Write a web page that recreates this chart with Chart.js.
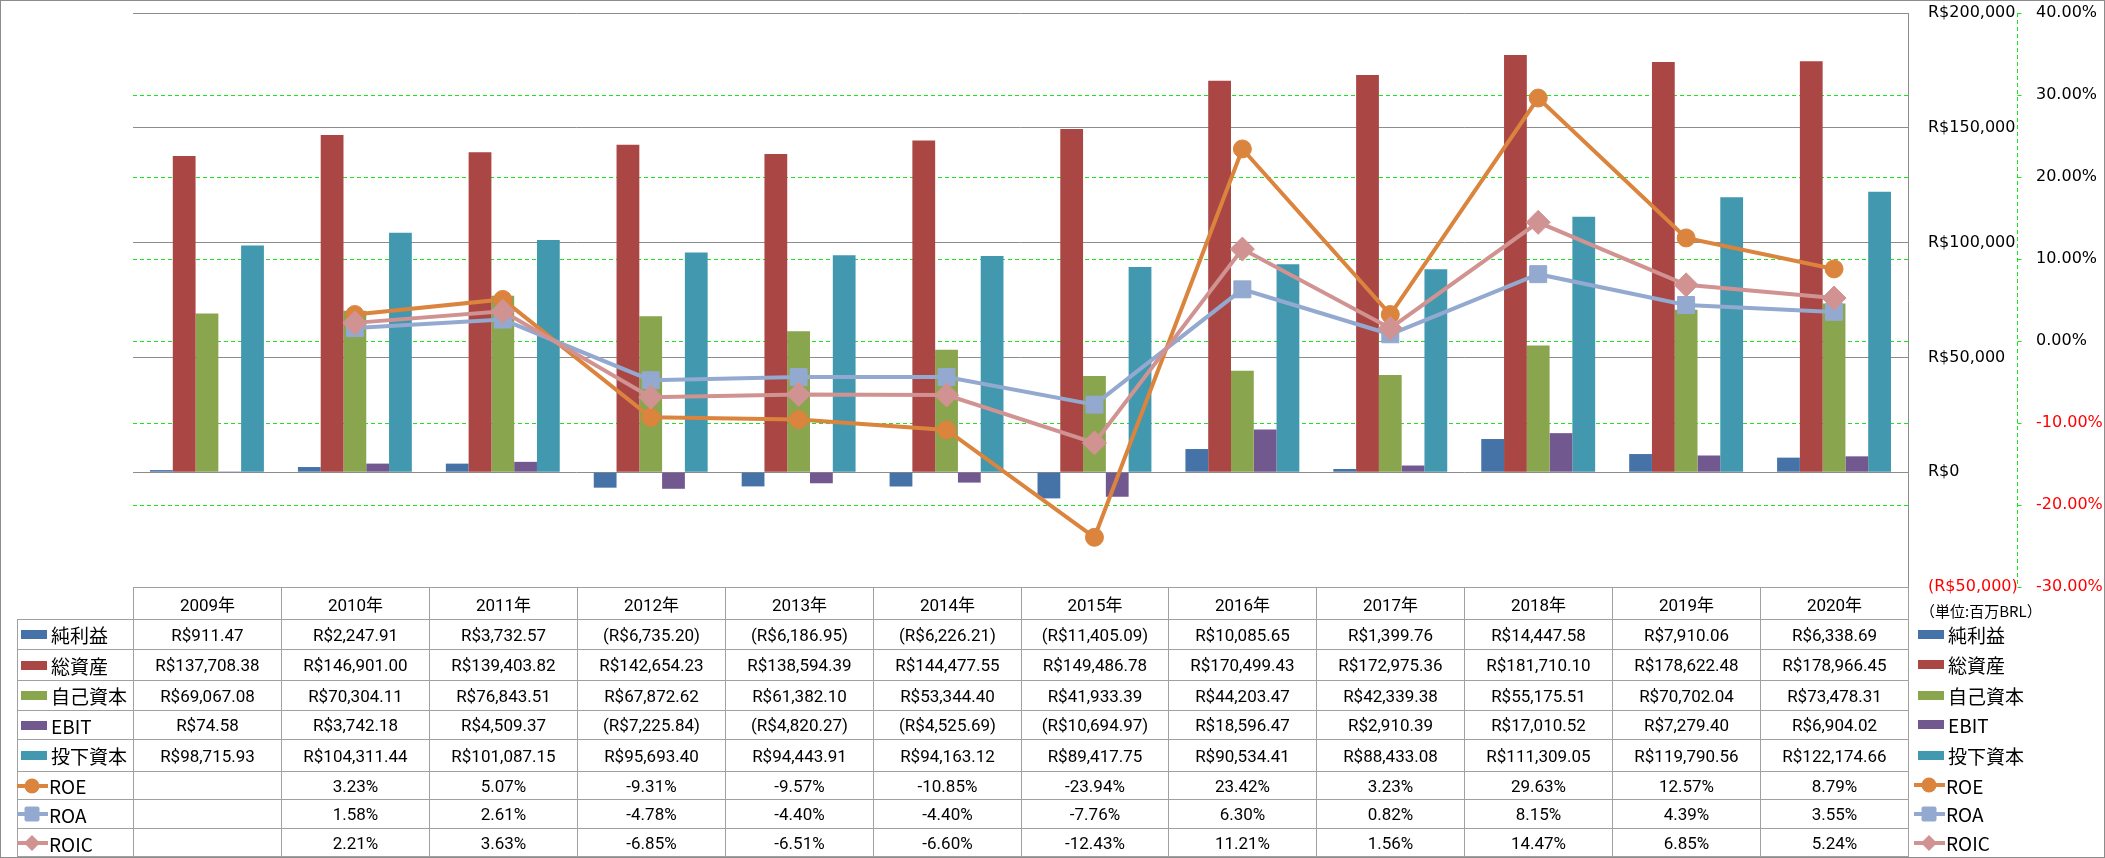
<!DOCTYPE html>
<html>
<head>
  <meta charset="utf-8">
  <title>財務指標 2009-2020</title>
  <script src="https://cdn.jsdelivr.net/npm/chart.js"></script>
  <style>
    body { margin: 0; background: #fff; }
    #wrap { position: relative; width: 2105px; height: 858px; overflow: hidden; background: #fff; }
    #chart { position: absolute; left: 0; top: 0; }
    #frame { position: absolute; left: 0; top: 0; width: 2105px; height: 858px; box-sizing: border-box; border: 1px solid #8c8c8c; pointer-events: none; }
    .cell { position: absolute; box-sizing: border-box; border-left: 1px solid #a0a0a0; border-top: 1px solid #a0a0a0;
            display: flex; align-items: center; justify-content: center;
            font-family: Roboto, "Noto Sans CJK JP", sans-serif; font-size: 17px; color: #000; white-space: nowrap; }
    .lab { justify-content: flex-start; font-family: "Noto Sans CJK JP", sans-serif; font-size: 19px; }
    .leg { position: absolute; display: flex; align-items: center; font-family: "Noto Sans CJK JP", sans-serif; font-size: 19px; white-space: nowrap; }
    .sw { display: inline-block; width: 26px; height: 9px; margin-right: 4px; }
    .vline, .hline { position: absolute; background: #a0a0a0; }
  </style>
</head>
<body>
<div id="wrap">
  <canvas id="chart" width="2105" height="858"></canvas>
  <div id="table"></div>
  <div id="frame"></div>
</div>

<script>
  const years = ['2009年', '2010年', '2011年', '2012年', '2013年', '2014年', '2015年', '2016年', '2017年', '2018年', '2019年', '2020年'];

  // 単位: 百万BRL
  const netIncome = [911.47, 2247.91, 3732.57, -6735.20, -6186.95, -6226.21, -11405.09, 10085.65, 1399.76, 14447.58, 7910.06, 6338.69];
  const totalAssets = [137708.38, 146901.00, 139403.82, 142654.23, 138594.39, 144477.55, 149486.78, 170499.43, 172975.36, 181710.10, 178622.48, 178966.45];
  const equity = [69067.08, 70304.11, 76843.51, 67872.62, 61382.10, 53344.40, 41933.39, 44203.47, 42339.38, 55175.51, 70702.04, 73478.31];
  const ebit = [74.58, 3742.18, 4509.37, -7225.84, -4820.27, -4525.69, -10694.97, 18596.47, 2910.39, 17010.52, 7279.40, 6904.02];
  const investedCapital = [98715.93, 104311.44, 101087.15, 95693.40, 94443.91, 94163.12, 89417.75, 90534.41, 88433.08, 111309.05, 119790.56, 122174.66];

  // %
  const roe = [null, 3.23, 5.07, -9.31, -9.57, -10.85, -23.94, 23.42, 3.23, 29.63, 12.57, 8.79];
  const roa = [null, 1.58, 2.61, -4.78, -4.40, -4.40, -7.76, 6.30, 0.82, 8.15, 4.39, 3.55];
  const roic = [null, 2.21, 3.63, -6.85, -6.51, -6.60, -12.43, 11.21, 1.56, 14.47, 6.85, 5.24];

  const series = [
    { name: '純利益', type: 'bar', color: '#4572A7', data: netIncome },
    { name: '総資産', type: 'bar', color: '#AA4643', data: totalAssets },
    { name: '自己資本', type: 'bar', color: '#89A54E', data: equity },
    { name: 'EBIT', type: 'bar', color: '#71588F', data: ebit },
    { name: '投下資本', type: 'bar', color: '#4198AF', data: investedCapital },
    { name: 'ROE', type: 'line', color: '#DB843D', marker: 'circle', data: roe },
    { name: 'ROA', type: 'line', color: '#93A9CF', marker: 'rect', data: roa },
    { name: 'ROIC', type: 'line', color: '#D19392', marker: 'rectRot', data: roic }
  ];

  const GREEN = '#19e619';
  const GRAY = '#8c8c8c';

  function fmtMoney(v, dec) {
    const s = 'R$' + Math.abs(v).toLocaleString('en-US', { minimumFractionDigits: dec, maximumFractionDigits: dec });
    return v < 0 ? '(' + s + ')' : s;
  }
  function fmtPct(v) { return v === null ? '' : v.toFixed(2) + '%'; }

  const markerRadius = { circle: 9, rect: 12, rectRot: 12 };

  const datasets = series.map((s, i) => {
    if (s.type === 'bar') {
      return {
        type: 'bar', label: s.name, data: s.data, yAxisID: 'y',
        backgroundColor: s.color, borderWidth: 0,
        categoryPercentage: 0.77, barPercentage: 1.0, order: 10
      };
    }
    return {
      type: 'line', label: s.name, data: s.data, yAxisID: 'y1',
      borderColor: s.color, backgroundColor: s.color, borderWidth: 4,
      pointStyle: s.marker, pointRadius: markerRadius[s.marker],
      pointBackgroundColor: s.color, pointBorderColor: s.color, pointBorderWidth: 1,
      tension: 0, order: 8 - i
    };
  });

  // 右側の%軸の縦線（破線）と目盛り
  const pctAxisLine = {
    id: 'pctAxisLine',
    afterDraw(chart) {
      const s = chart.scales.y1, a = chart.chartArea, c = chart.ctx;
      const x = Math.round(s.left) + 0.5;
      c.save();
      c.strokeStyle = GREEN;
      c.lineWidth = 1;
      c.setLineDash([4, 3]);
      c.beginPath();
      c.moveTo(x, a.top);
      c.lineTo(x, a.bottom);
      c.stroke();
      c.setLineDash([]);
      s.ticks.forEach(t => {
        const y = Math.round(s.getPixelForValue(t.value)) + 0.5;
        c.beginPath();
        c.moveTo(x, y);
        c.lineTo(x + 4, y);
        c.stroke();
      });
      c.restore();
    }
  };

  new Chart(document.getElementById('chart'), {
    type: 'bar',
    data: { labels: years, datasets: datasets },
    options: {
      responsive: false,
      animation: false,
      layout: { padding: { left: 133, top: 13, right: 0, bottom: 271 } },
      plugins: { legend: { display: false }, tooltip: { enabled: false } },
      scales: {
        x: { display: false },
        y: {
          position: 'right', min: -50000, max: 200000,
          afterFit: s => { s.width = 109; },
          grid: { color: GRAY, drawTicks: true, tickLength: 17, tickColor: 'rgba(0,0,0,0)' },
          border: { display: true, color: GRAY },
          ticks: {
            stepSize: 50000, padding: 3,
            font: { family: 'DejaVu Sans', size: 16 },
            color: c => c.tick.value < 0 ? '#ff0000' : '#000',
            callback: v => fmtMoney(v, 0)
          }
        },
        y1: {
          position: 'right', min: -30, max: 40,
          afterFit: s => { s.width = 88; },
          grid: {
            color: c => (c.tick && (c.tick.value === 40 || c.tick.value === -30)) ? 'rgba(0,0,0,0)' : GREEN,
            tickColor: 'rgba(0,0,0,0)', tickLength: 16, drawTicks: true
          },
          border: { display: false, dash: [4, 3] },
          ticks: {
            stepSize: 10, padding: 3,
            font: { family: 'DejaVu Sans', size: 16 },
            color: c => c.tick.value < 0 ? '#ff0000' : '#000',
            callback: v => v.toFixed(2) + '%'
          }
        }
      }
    },
    plugins: [pctAxisLine]
  });

  // データテーブル
  const table = document.getElementById('table');
  const colLeft = 133, colRight = 1908, labLeft = 17;
  const rowY = [587, 619, 649, 680, 710, 739, 771, 799, 828, 857];
  const colX = i => Math.round(colLeft + i * (colRight - colLeft) / years.length);

  function add(cls, left, top, w, h, html) {
    const d = document.createElement('div');
    d.className = cls;
    d.style.left = left + 'px'; d.style.top = top + 'px';
    d.style.width = w + 'px'; d.style.height = h + 'px';
    if (html !== undefined) d.innerHTML = html;
    table.appendChild(d);
    return d;
  }

  function icon(s) {
    if (s.type === 'bar') return '<span class="sw" style="background:' + s.color + '"></span>';
    let m = '';
    if (s.marker === 'circle') m = '<circle cx="15" cy="8" r="7.5" fill="' + s.color + '"/>';
    if (s.marker === 'rect') m = '<rect x="7.5" y="0.5" width="15" height="15" rx="2" fill="' + s.color + '"/>';
    if (s.marker === 'rectRot') m = '<polygon points="15,0 23,8 15,16 7,8" fill="' + s.color + '"/>';
    return '<svg width="31" height="16" style="margin-right:1px;margin-left:-2px"><line x1="0" y1="8" x2="31" y2="8" stroke="' + s.color + '" stroke-width="4"/>' + m + '</svg>';
  }

  years.forEach((y, i) => add('cell', colX(i), rowY[0], colX(i + 1) - colX(i), rowY[1] - rowY[0], y));

  series.forEach((s, r) => {
    const top = rowY[r + 1], h = rowY[r + 2] - top;
    const lab = add('cell lab', labLeft, top, colLeft - labLeft, h, icon(s) + '<span>' + s.name + '</span>');
    lab.style.paddingLeft = (s.type === 'bar' ? 3 : 1) + 'px';
    s.data.forEach((v, i) => {
      const txt = v === null ? '' : (s.type === 'bar' ? fmtMoney(v, 2) : fmtPct(v));
      add('cell', colX(i), top, colX(i + 1) - colX(i), h, txt);
    });
    add('leg', 1918 - (s.type === 'bar' ? 0 : 2), top, 180, h, icon(s) + '<span>' + s.name + '</span>');
  });

  add('vline', colRight, rowY[0], 1, rowY[9] - rowY[0]);
  add('hline', labLeft, rowY[9] - 1, colRight - labLeft, 1);

  const unit = add('leg', 1920, 600, 180, 20, '（単位:百万BRL）');
  unit.style.fontSize = '15px';
</script>
</body>
</html>
